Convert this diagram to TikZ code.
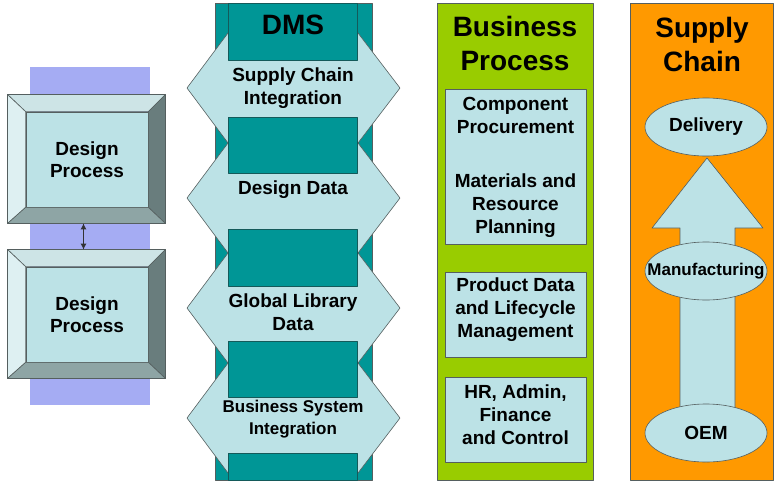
\documentclass[tikz,border=0pt]{standalone}
\usepackage{fontspec}
\setmainfont{Liberation Sans}
\usetikzlibrary{positioning, arrows.meta, calc, shapes.geometric}

\definecolor{dmsteal}{RGB}{0,150,150}
\definecolor{darkteal}{RGB}{20,90,90}
\definecolor{paleblue}{RGB}{188,226,230}
\definecolor{lavender}{RGB}{165,172,243}
\definecolor{bpgreen}{RGB}{153,204,0}
\definecolor{scorange}{RGB}{255,153,0}
\definecolor{edgegray}{RGB}{85,95,95}
\definecolor{bevtop}{RGB}{205,228,230}
\definecolor{bevleft}{RGB}{222,240,242}
\definecolor{bevright}{RGB}{105,125,125}
\definecolor{bevbottom}{RGB}{142,165,165}

\tikzset{
  column/.style={draw=edgegray, line width=0.8pt},
  lbl/.style={font=\bfseries\fontsize{19}{23}\selectfont, align=center, inner sep=0pt},
  smalllbl/.style={font=\bfseries\fontsize{17}{22}\selectfont, align=center, inner sep=0pt},
  title/.style={font=\bfseries\fontsize{28}{34}\selectfont, align=center, inner sep=0pt},
  bpbox/.style={draw=edgegray, fill=paleblue, line width=0.6pt},
  frame/.style={draw=edgegray, line width=0.7pt, inner sep=0pt, minimum width=157pt, minimum height=128pt},
  face/.style={draw=edgegray, fill=paleblue, line width=0.6pt, inner sep=0pt,
    minimum width=122pt, minimum height=95pt, font=\bfseries\fontsize{19}{22}\selectfont, align=center},
  stage/.style={ellipse, draw=edgegray, fill=paleblue, line width=0.6pt, inner sep=0pt,
    minimum width=122pt, minimum height=58pt},
}

\begin{document}
\begin{tikzpicture}[x=1pt, y=-1pt, line join=round]
  \useasboundingbox (0,0) rectangle (774,483);

  % design process column
  \fill[lavender] (30,67) rectangle (150,405);
  \node[frame] (dp1frame) at (86.5,159) {};
  \node[frame] (dp2frame) at (86.5,314) {};
  \node[face] (dp1) at (87,159.5) {Design\\Process};
  \node[face] (dp2) at (87,314.5) {Design\\Process};
  \foreach \b in {dp1, dp2} {
    \filldraw[fill=bevtop, draw=edgegray, line width=0.6pt]
      (\b frame.north west) -- (\b frame.north east) -- (\b.north east) -- (\b.north west) -- cycle;
    \filldraw[fill=bevleft, draw=edgegray, line width=0.6pt]
      (\b frame.north west) -- (\b.north west) -- (\b.south west) -- (\b frame.south west) -- cycle;
    \filldraw[fill=bevright, draw=edgegray, line width=0.6pt]
      (\b frame.north east) -- (\b.north east) -- (\b.south east) -- (\b frame.south east) -- cycle;
    \filldraw[fill=bevbottom, draw=edgegray, line width=0.6pt]
      (\b frame.south west) -- (\b.south west) -- (\b.south east) -- (\b frame.south east) -- cycle;
    \draw[edgegray, line width=0.8pt] (\b frame.north west) rectangle (\b frame.south east);
  }
  \draw[{Latex[length=6pt,width=6pt]}-{Latex[length=6pt,width=6pt]}, line width=1pt, black!80]
    ($(dp1frame.south)+(-3,0)$) -- ($(dp2frame.north)+(-3,0)$);

  % DMS column
  \fill[dmsteal, column] (215,3) rectangle (372,480);
  \foreach \cy in {88,198,308,418}
    \filldraw[fill=paleblue, draw=edgegray, line width=0.6pt]
      (187,\cy) -- (228,\cy-55) -- (358,\cy-55) -- (400,\cy) -- (358,\cy+55) -- (228,\cy+55) -- cycle;
  \foreach \ty/\by in {3/60, 117/173, 229/286, 341/397, 453/480}
    \filldraw[fill=dmsteal, draw=darkteal, line width=0.6pt] (228,\ty) rectangle (357,\by);
  \node[title] (dms) at (293,25) {DMS};
  \node[lbl] (sci) at (293,88) {Supply Chain\\Integration};
  \node[lbl] (dd) at (293,190) {Design Data};
  \node[lbl] (gld) at (293,312) {Global Library\\Data};
  \node[smalllbl] (bsi) at (293,419) {Business System\\Integration};

  % business process column
  \fill[bpgreen, column] (437,3) rectangle (593,480);
  \node[title] (bp) at (515,43) {Business\\Process};
  \draw[bpbox] (445,89) rectangle (586,244);
  \draw[bpbox] (445,272) rectangle (586,357);
  \draw[bpbox] (445,377) rectangle (586,462);
  \node[lbl] (cp) at (515.5,115.5) {Component\\Procurement};
  \node[lbl] (mrp) at (515.5,206) {Materials and\\Resource\\Planning};
  \node[lbl] (pdlm) at (515.5,309.5) {Product Data\\and Lifecycle\\Management};
  \node[lbl] (hr) at (515.5,415) {HR, Admin,\\Finance\\and Control};

  % supply chain column
  \fill[scorange, column] (630,3) rectangle (773,480);
  \node[title] (sc) at (702,44) {Supply\\Chain};
  \filldraw[fill=paleblue, draw=edgegray, line width=0.6pt]
    (680,410) -- (680,228) -- (652,228) -- (707,158) -- (763,228) -- (735,228) -- (735,410) -- cycle;
  \node[stage] (del) at (706,127) {};
  \node[stage] (man) at (706,271) {};
  \node[stage] (oem) at (706,433) {};
  \node[lbl] (dellbl) at (del.center) {Delivery};
  \node[smalllbl] (manlbl) at (man.center) {Manufacturing};
  \node[lbl] (oemlbl) at (oem.center) {OEM};
\end{tikzpicture}
\end{document}
